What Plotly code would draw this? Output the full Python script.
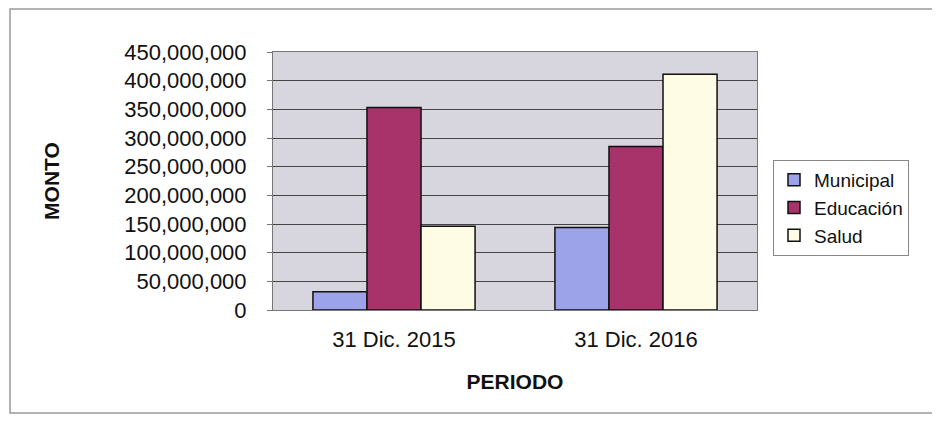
import plotly.graph_objects as go

categories = ["31 Dic. 2015", "31 Dic. 2016"]
municipal = [32_000_000, 144_000_000]
educacion = [353_000_000, 285_000_000]
salud = [146_000_000, 411_000_000]
series_names = ["Municipal", "Educación", "Salud"]
colors = ["#9DA3E8", "#A8336A", "#FFFCE6"]
tick_vals = list(range(0, 450_000_001, 50_000_000))

FONT = "Liberation Sans, Arial, sans-serif"

# plot area in figure pixel coords (page has an 8px body margin)
L, T, W, H = 265, 44, 484, 258

fig = go.Figure()
for name, vals, col in zip(series_names, [municipal, educacion, salud], colors):
    fig.add_trace(go.Bar(
        x=categories, y=vals, name=name,
        marker=dict(color=col, line=dict(color="#111111", width=1.5)),
    ))

fig.update_layout(
    width=940, height=425,
    margin=dict(l=L, r=940 - L - W, t=T, b=425 - T - H),
    paper_bgcolor="white",
    plot_bgcolor="#D7D6DF",
    barmode="group",
    bargap=0.33,
    bargroupgap=0,
    font=dict(family=FONT, size=22, color="#111111"),
    legend=dict(
        x=(765 - L) / W, y=(T + H - 152) / H, xanchor="left", yanchor="top",
        bgcolor="white", bordercolor="#888888", borderwidth=1,
        font=dict(size=19, family=FONT, color="#111111"),
        itemwidth=30,
    ),
    showlegend=True,
)

fig.update_xaxes(
    showline=True, linecolor="#777777", linewidth=1, mirror=True,
    ticks="", ticklabelstandoff=10,
    tickfont=dict(size=22),
    title=dict(text="<b>PERIODO</b>", font=dict(size=21), standoff=22),
)
fig.update_yaxes(
    range=[0, 450_000_000], tickvals=tick_vals, tickformat=",d",
    showgrid=True, gridcolor="#454545", gridwidth=1,
    showline=True, linecolor="#777777", linewidth=1, mirror=True,
    ticks="outside", ticklen=5, tickcolor="#777777",
    ticklabelstandoff=16,
    tickfont=dict(size=22),
    title=dict(text="<b>MONTO</b>", font=dict(size=21), standoff=58),
    zeroline=False,
)

# outer chart frame
fig.add_shape(type="rect", xref="paper", yref="paper",
              x0=(2 - L) / W, x1=(927 - L) / W,
              y0=(T + H - 405) / H, y1=(T + H - 1) / H,
              line=dict(color="#9A9A9A", width=1.5), fillcolor="rgba(0,0,0,0)",
              layer="below")

fig.write_html("out.html")
